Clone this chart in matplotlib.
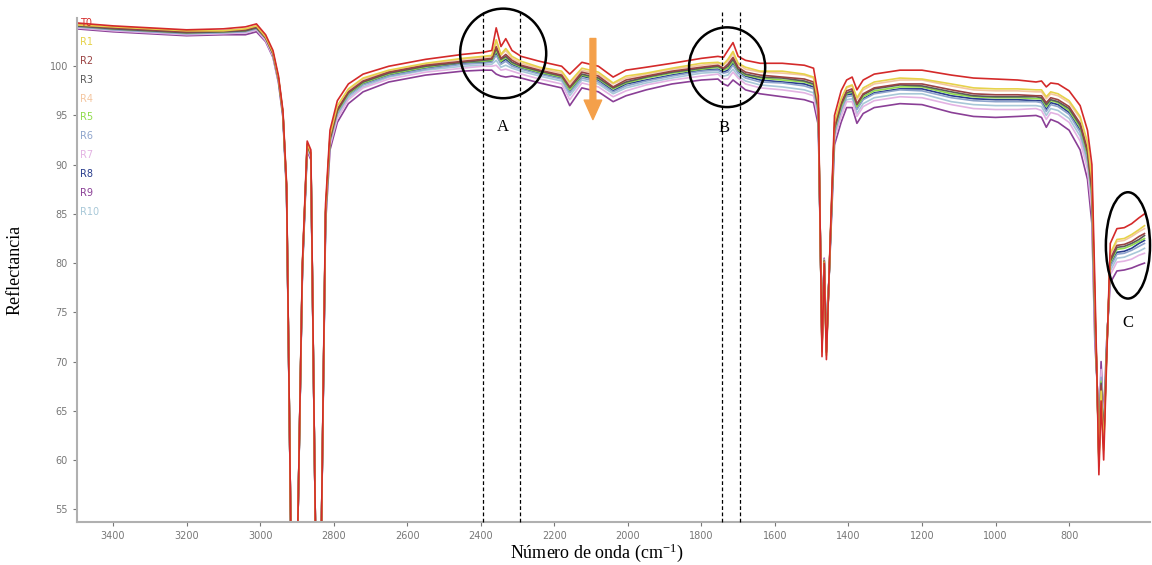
import matplotlib
matplotlib.use("Agg")
import matplotlib.pyplot as plt
from matplotlib.patches import Ellipse

plt.rcParams['mathtext.fontset'] = 'stix'

wavenumber = [3500, 3400, 3300, 3200, 3100, 3040, 3010, 2985, 2965, 2950, 2938, 2928, 2915, 2900, 2885,
              2872, 2862, 2848, 2835, 2822, 2810, 2790, 2760, 2720, 2650, 2550, 2450, 2395, 2370, 2358,
              2345, 2332, 2315, 2290, 2240, 2180, 2158, 2125, 2080, 2040, 2005, 1950, 1880, 1800, 1755,
              1740, 1728, 1714, 1700, 1680, 1640, 1580, 1520, 1495, 1482, 1472, 1466, 1460, 1450, 1438,
              1420, 1405, 1390, 1377, 1360, 1330, 1260, 1200, 1120, 1060, 1000, 940, 890, 875, 862,
              850, 830, 800, 770, 750, 738, 730, 724, 719, 713, 706, 698, 688, 670, 650,
              630, 610, 595]

R0 = [104.4, 104.1, 103.9, 103.7, 103.8, 104.0, 104.3, 103.2, 101.6, 99.0, 95.5, 88.0, 48, 48, 80.0,
      92.4, 91.5, 48, 48, 86.0, 93.5, 96.5, 98.2, 99.2, 100.0, 100.7, 101.2, 101.4, 101.6, 103.9,
      102.0, 102.8, 101.6, 101.0, 100.5, 100.0, 99.2, 100.4, 100.0, 98.9, 99.6, 99.9, 100.3, 100.8, 101.0,
      100.9, 101.6, 102.4, 101.0, 100.6, 100.3, 100.3, 100.1, 99.8, 97.0, 70.5, 80.0, 70.2, 82.0, 95.0,
      97.5, 98.6, 98.9, 97.6, 98.6, 99.2, 99.6, 99.6, 99.1, 98.8, 98.7, 98.6, 98.4, 98.5, 97.9,
      98.3, 98.2, 97.5, 96.0, 93.5, 90.0, 78.0, 68.0, 58.5, 66.0, 60.0, 70.0, 82.0, 83.5, 83.6,
      84.0, 84.6, 85.0]
R1 = [104.2, 104.0, 103.8, 103.6, 103.6, 103.8, 104.1, 103.0, 101.4, 98.8, 95.3, 87.8, 48, 48, 79.8,
      92.2, 91.2, 48, 48, 85.5, 93.0, 96.0, 97.7, 98.8, 99.6, 100.3, 100.8, 101.0, 101.1, 102.7,
      101.2, 101.8, 101.0, 100.5, 99.9, 99.5, 98.4, 99.8, 99.4, 98.3, 99.0, 99.3, 99.8, 100.3, 100.4,
      100.2, 100.7, 101.5, 100.3, 99.9, 99.5, 99.5, 99.2, 98.9, 96.3, 71.0, 80.1, 70.6, 81.8, 94.3,
      96.7, 97.9, 98.1, 96.8, 97.8, 98.4, 98.8, 98.7, 98.2, 97.8, 97.7, 97.7, 97.6, 97.6, 96.9,
      97.4, 97.2, 96.5, 94.9, 92.3, 88.5, 76.5, 68.0, 59.4, 67.0, 61.0, 70.5, 81.0, 82.4, 82.5,
      82.9, 83.4, 83.8]
R2 = [104.2, 103.9, 103.7, 103.5, 103.6, 103.7, 104.0, 102.9, 101.3, 98.7, 95.2, 87.6, 48, 48, 79.6,
      92.0, 91.1, 48, 48, 85.2, 92.7, 95.6, 97.4, 98.5, 99.4, 100.1, 100.5, 100.7, 100.8, 102.0,
      100.8, 101.2, 100.6, 100.1, 99.6, 99.1, 97.9, 99.4, 99.0, 97.9, 98.6, 99.0, 99.5, 99.9, 100.1,
      99.8, 100.2, 100.9, 99.9, 99.4, 99.1, 98.9, 98.7, 98.4, 95.8, 71.3, 80.2, 70.9, 81.6, 93.8,
      96.2, 97.5, 97.7, 96.2, 97.2, 97.8, 98.2, 98.2, 97.6, 97.2, 97.1, 97.1, 97.0, 97.0, 96.3,
      96.8, 96.6, 95.9, 94.2, 91.5, 87.6, 75.6, 68.0, 59.9, 67.6, 61.6, 70.8, 80.4, 81.8, 81.9,
      82.2, 82.7, 83.0]
R3 = [104.1, 103.8, 103.6, 103.4, 103.5, 103.6, 103.9, 102.9, 101.3, 98.7, 95.2, 87.6, 48, 48, 79.6,
      92.0, 91.1, 48, 48, 85.1, 92.6, 95.5, 97.3, 98.4, 99.3, 100.0, 100.4, 100.6, 100.7, 101.8,
      100.7, 101.0, 100.4, 100.0, 99.5, 99.0, 97.8, 99.2, 98.8, 97.8, 98.4, 98.9, 99.4, 99.8, 100.0,
      99.7, 100.0, 100.7, 99.7, 99.2, 98.9, 98.8, 98.5, 98.2, 95.7, 71.4, 80.2, 71.0, 81.6, 93.7,
      96.1, 97.3, 97.5, 96.1, 97.1, 97.7, 98.1, 98.0, 97.4, 97.0, 96.9, 96.9, 96.9, 96.8, 96.1,
      96.6, 96.4, 95.7, 94.0, 91.3, 87.3, 75.3, 68.0, 60.1, 67.8, 61.8, 70.9, 80.2, 81.6, 81.7,
      82.0, 82.4, 82.8]
R4 = [104.2, 103.9, 103.7, 103.5, 103.6, 103.8, 104.1, 103.0, 101.4, 98.8, 95.3, 87.7, 48, 48, 79.7,
      92.1, 91.2, 48, 48, 85.4, 92.9, 95.8, 97.6, 98.7, 99.5, 100.2, 100.7, 100.9, 101.0, 102.5,
      101.1, 101.6, 100.8, 100.3, 99.8, 99.3, 98.2, 99.6, 99.2, 98.2, 98.8, 99.2, 99.7, 100.1, 100.3,
      100.1, 100.5, 101.3, 100.2, 99.7, 99.4, 99.3, 99.1, 98.8, 96.1, 71.1, 80.2, 70.7, 81.7, 94.1,
      96.5, 97.8, 98.0, 96.6, 97.6, 98.2, 98.6, 98.6, 98.0, 97.6, 97.5, 97.5, 97.4, 97.4, 96.7,
      97.2, 97.0, 96.3, 94.7, 92.0, 88.2, 76.2, 68.0, 59.6, 67.2, 61.2, 70.6, 80.8, 82.2, 82.3,
      82.7, 83.2, 83.5]
R5 = [104.1, 103.8, 103.6, 103.4, 103.5, 103.6, 103.9, 102.9, 101.3, 98.7, 95.2, 87.5, 48, 48, 79.5,
      91.9, 91.0, 48, 48, 85.0, 92.5, 95.4, 97.2, 98.3, 99.2, 99.9, 100.4, 100.5, 100.6, 101.6,
      100.5, 100.9, 100.3, 99.9, 99.4, 98.9, 97.6, 99.1, 98.7, 97.7, 98.3, 98.8, 99.3, 99.7, 99.9,
      99.6, 99.8, 100.5, 99.6, 99.1, 98.8, 98.6, 98.4, 98.1, 95.5, 71.5, 80.3, 71.1, 81.5, 93.5,
      95.9, 97.2, 97.4, 95.9, 96.9, 97.5, 97.9, 97.9, 97.2, 96.9, 96.8, 96.8, 96.7, 96.7, 95.9,
      96.5, 96.3, 95.5, 93.8, 91.0, 87.0, 75.0, 68.0, 60.3, 68.0, 62.0, 71.0, 80.0, 81.4, 81.5,
      81.8, 82.2, 82.5]
R6 = [104.0, 103.7, 103.5, 103.3, 103.4, 103.5, 103.8, 102.8, 101.2, 98.6, 95.1, 87.4, 48, 48, 79.4,
      91.8, 90.9, 48, 48, 84.8, 92.3, 95.2, 97.0, 98.1, 99.0, 99.7, 100.2, 100.3, 100.4, 101.1,
      100.2, 100.5, 100.0, 99.7, 99.2, 98.7, 97.3, 98.8, 98.4, 97.4, 98.0, 98.5, 99.0, 99.5, 99.6,
      99.3, 99.4, 100.1, 99.3, 98.8, 98.4, 98.3, 98.0, 97.7, 95.2, 71.7, 80.3, 71.3, 81.4, 93.2,
      95.6, 96.9, 97.0, 95.6, 96.6, 97.2, 97.6, 97.5, 96.8, 96.5, 96.4, 96.4, 96.4, 96.3, 95.4,
      96.1, 95.9, 95.1, 93.3, 90.5, 86.4, 74.4, 68.0, 60.6, 68.4, 62.4, 71.2, 79.6, 80.9, 81.0,
      81.3, 81.7, 82.0]
R7 = [103.9, 103.6, 103.4, 103.2, 103.3, 103.4, 103.7, 102.6, 101.0, 98.4, 94.9, 87.2, 48, 48, 79.2,
      91.6, 90.7, 48, 48, 84.4, 91.9, 94.7, 96.6, 97.8, 98.7, 99.4, 99.8, 100.0, 100.0, 100.1,
      99.6, 99.7, 99.5, 99.2, 98.7, 98.2, 96.6, 98.3, 97.9, 96.9, 97.5, 98.1, 98.6, 99.0, 99.2,
      98.7, 98.7, 99.4, 98.8, 98.2, 97.8, 97.6, 97.3, 97.0, 94.6, 72.1, 80.4, 71.6, 81.2, 92.6,
      94.9, 96.4, 96.4, 94.9, 95.9, 96.5, 96.9, 96.8, 96.1, 95.7, 95.6, 95.6, 95.7, 95.5, 94.6,
      95.3, 95.1, 94.3, 92.4, 89.5, 85.2, 73.2, 68.0, 61.3, 69.2, 63.2, 71.6, 78.8, 80.1, 80.2,
      80.4, 80.8, 81.0]
R8 = [104.1, 103.8, 103.6, 103.4, 103.5, 103.6, 103.9, 102.8, 101.2, 98.6, 95.1, 87.5, 48, 48, 79.5,
      91.9, 91.0, 48, 48, 84.9, 92.4, 95.3, 97.1, 98.2, 99.1, 99.8, 100.3, 100.4, 100.5, 101.3,
      100.4, 100.7, 100.2, 99.8, 99.3, 98.8, 97.4, 99.0, 98.6, 97.5, 98.2, 98.6, 99.1, 99.6, 99.7,
      99.4, 99.6, 100.3, 99.5, 99.0, 98.6, 98.4, 98.2, 97.9, 95.4, 71.6, 80.3, 71.2, 81.5, 93.4,
      95.7, 97.1, 97.2, 95.7, 96.7, 97.3, 97.7, 97.7, 97.0, 96.7, 96.6, 96.6, 96.5, 96.5, 95.6,
      96.3, 96.1, 95.3, 93.5, 90.8, 86.7, 74.7, 68.0, 60.4, 68.2, 62.2, 71.1, 79.8, 81.1, 81.2,
      81.5, 82.0, 82.3]
R9 = [103.8, 103.5, 103.3, 103.1, 103.2, 103.2, 103.5, 102.5, 100.9, 98.3, 94.8, 87.0, 48, 48, 79.0,
      91.4, 90.5, 48, 48, 84.0, 91.5, 94.3, 96.2, 97.4, 98.4, 99.1, 99.5, 99.6, 99.6, 99.2,
      99.0, 98.9, 99.0, 98.8, 98.3, 97.8, 96.0, 97.8, 97.4, 96.4, 97.0, 97.6, 98.2, 98.6, 98.7,
      98.2, 98.0, 98.6, 98.2, 97.6, 97.2, 96.9, 96.6, 96.3, 94.0, 72.5, 80.5, 72.0, 81.0, 92.0,
      94.3, 95.8, 95.8, 94.2, 95.2, 95.8, 96.2, 96.1, 95.3, 94.9, 94.8, 94.9, 95.0, 94.8, 93.8,
      94.6, 94.3, 93.5, 91.5, 88.5, 84.0, 72.0, 68.0, 62.0, 70.0, 64.0, 72.0, 78.0, 79.2, 79.3,
      79.5, 79.8, 80.0]
R10 = [104.0, 103.7, 103.5, 103.3, 103.4, 103.4, 103.7, 102.7, 101.1, 98.5, 95.0, 87.3, 48, 48, 79.3,
       91.7, 90.8, 48, 48, 84.6, 92.1, 95.0, 96.8, 97.9, 98.9, 99.6, 100.0, 100.1, 100.2, 100.6,
       99.9, 100.1, 99.8, 99.5, 99.0, 98.5, 97.0, 98.6, 98.2, 97.2, 97.8, 98.3, 98.8, 99.3, 99.4,
       99.0, 99.1, 99.7, 99.0, 98.5, 98.1, 97.9, 97.6, 97.3, 94.9, 71.9, 80.4, 71.5, 81.3, 92.9,
       95.3, 96.6, 96.7, 95.2, 96.2, 96.8, 97.2, 97.2, 96.4, 96.1, 96.0, 96.0, 96.0, 95.9, 95.0,
       95.7, 95.5, 94.7, 92.9, 90.0, 85.8, 73.8, 68.0, 61.0, 68.8, 62.8, 71.4, 79.2, 80.5, 80.6,
       80.9, 81.2, 81.5]

labels = ["T0", "R1", "R2", "R3", "R4", "R5", "R6", "R7", "R8", "R9", "R10"]
series = [R0, R1, R2, R3, R4, R5, R6, R7, R8, R9, R10]
colors = ["#d42a2a", "#e6d24a", "#9a4242", "#5a5a5a", "#f4c6a0", "#8fdc4a",
          "#8ea4cc", "#e3b3e3", "#283c8c", "#8a3f96", "#a8c8d8"]

x_ticks = [3400, 3200, 3000, 2800, 2600, 2400, 2200, 2000, 1800, 1600, 1400, 1200, 1000, 800]
y_ticks = [55, 60, 65, 70, 75, 80, 85, 90, 95, 100]

region_lines = [2395, 2293, 1744, 1695]
region_labels = ["A", "B", "C"]

W, H = 1152, 565
fig = plt.figure(figsize=(W / 100, H / 100), dpi=100)
ax = fig.add_axes([77 / W, 43 / H, 1073 / W, 504 / H])

for i in range(len(series) - 1, -1, -1):
    ax.plot(wavenumber, series[i], color=colors[i], lw=1.2, zorder=2 + (len(series) - i) * 0.01)

ax.set_xlim(3498, 580)
ax.set_ylim(53.7, 104.9)
ax.set_xticks(x_ticks)
ax.set_yticks(y_ticks)
ax.tick_params(axis='both', labelsize=7, colors='#777777', length=3, width=0.8)
for s in ['top', 'right']:
    ax.spines[s].set_visible(False)
for s in ['left', 'bottom']:
    ax.spines[s].set_color('#b0b0b0')
    ax.spines[s].set_linewidth(1.5)

# legend as colored text
for i, lab in enumerate(labels):
    ypx = 23 + i * 18.9
    fig.text(80 / W, 1 - ypx / H, lab, color=colors[i], fontsize=7, va='center', ha='left')

# dashed region lines
for xv in region_lines:
    ax.plot([xv, xv], [53.7, 105.7], ls=(0, (3, 2)), color='black', lw=0.9, clip_on=False, zorder=5)

# circles
ax.add_patch(Ellipse((2339, 101.3), 234, 9.1, fill=False, ec='black', lw=1.8, clip_on=False, zorder=6))
ax.add_patch(Ellipse((1730, 99.9), 207, 8.1, fill=False, ec='black', lw=1.8, clip_on=False, zorder=6))
ax.add_patch(Ellipse((640, 81.8), 120, 10.8, fill=False, ec='black', lw=1.8, clip_on=False, zorder=6))

serif = ['Liberation Serif', 'DejaVu Serif']
ax.text(2339, 93.8, region_labels[0], family=serif, fontsize=12, ha='center', va='center')
ax.text(1738, 93.7, region_labels[1], family=serif, fontsize=12, ha='center', va='center')
ax.text(640, 73.9, region_labels[2], family=serif, fontsize=12, ha='center', va='center')

# orange arrow
ax.annotate('', xy=(2095, 94.3), xytext=(2095, 103.1),
            arrowprops=dict(arrowstyle='simple,head_width=0.9,head_length=1.0,tail_width=0.3',
                            color='#f4a04a', mutation_scale=14), zorder=7)

fig.text(597 / W, 1 - 553 / H, 'Número de onda (cm$^{\\mathregular{-1}}$)', family=serif,
         fontsize=13, ha='center', va='center')
fig.text(15 / W, 1 - 270 / H, 'Reflectancia', family=serif, fontsize=13, rotation=90,
         ha='center', va='center')

fig.savefig('out.png', dpi=100)
